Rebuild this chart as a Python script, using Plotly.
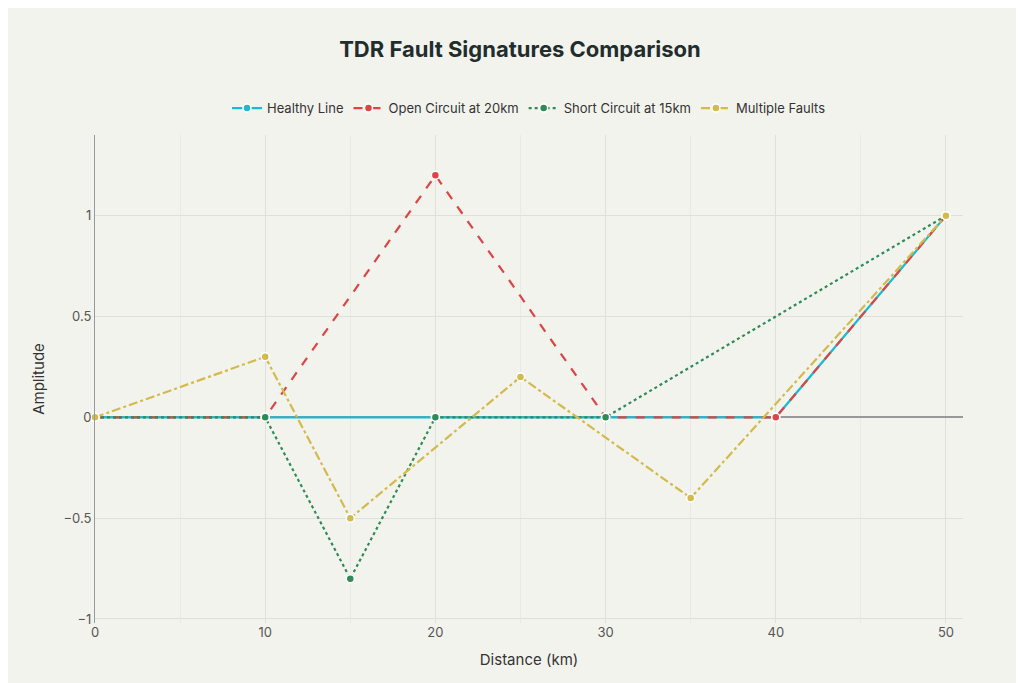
import plotly.graph_objects as go

healthy_x = [0, 10, 20, 30, 40, 50]
healthy_y = [0, 0, 0, 0, 0, 1]
open_x = [0, 10, 20, 30, 40, 50]
open_y = [0, 0, 1.2, 0, 0, 1]
short_x = [0, 10, 15, 20, 30, 50]
short_y = [0, 0, -0.8, 0, 0, 1]
multi_x = [0, 10, 15, 25, 35, 50]
multi_y = [0, 0.3, -0.5, 0.2, -0.4, 1]

series = [
    ("Healthy Line", healthy_x, healthy_y, "#1FB8CD", "solid"),
    ("Open Circuit at 20km", open_x, open_y, "#DB4545", "dash"),
    ("Short Circuit at 15km", short_x, short_y, "#2E8B57", "dot"),
    ("Multiple Faults", multi_x, multi_y, "#D2BA4C", "dashdot"),
]

fig = go.Figure()
for name, x, y, c, d in series:
    fig.add_trace(go.Scatter(x=x, y=y, name=name, mode="lines+markers",
                             line=dict(color=c, width=2.2, dash=d),
                             marker=dict(size=8, color=c, line=dict(color="white", width=1.5)),
                             cliponaxis=False))

bg = "#F3F3EE"
fig.update_layout(
    width=1024, height=683, paper_bgcolor=bg, plot_bgcolor=bg,
    font=dict(family="Inter, sans-serif", size=13, color="#333"),
    title=dict(text="<b>TDR Fault Signatures Comparison</b>", x=0.5, y=0.94,
               yref="container", yanchor="middle", xanchor="center",
               font=dict(size=22, color="#1f2d2d")),
    legend=dict(orientation="h", x=0.5, xanchor="center", y=1.055, yanchor="middle",
                font=dict(size=13), bgcolor="rgba(0,0,0,0)"),
    margin=dict(l=87, r=69, t=127, b=68),
    xaxis=dict(title=dict(text="Distance (km)", font=dict(size=15)), range=[0, 51],
               dtick=10, gridcolor="#e0e0da", showline=False, zeroline=False,
               minor=dict(dtick=5, showgrid=True, gridcolor="#eaeae4"),
               ticks="", tickfont=dict(size=13, color="#555")),
    yaxis=dict(title=dict(text="Amplitude", font=dict(size=15)), range=[-1.02, 1.4],
               dtick=0.5, gridcolor="#e0e0da", zeroline=True, zerolinecolor="#999",
               zerolinewidth=2, showline=True, linecolor="#999", linewidth=1,
               tickfont=dict(size=13, color="#555")),
)
fig.write_html("out.html")
